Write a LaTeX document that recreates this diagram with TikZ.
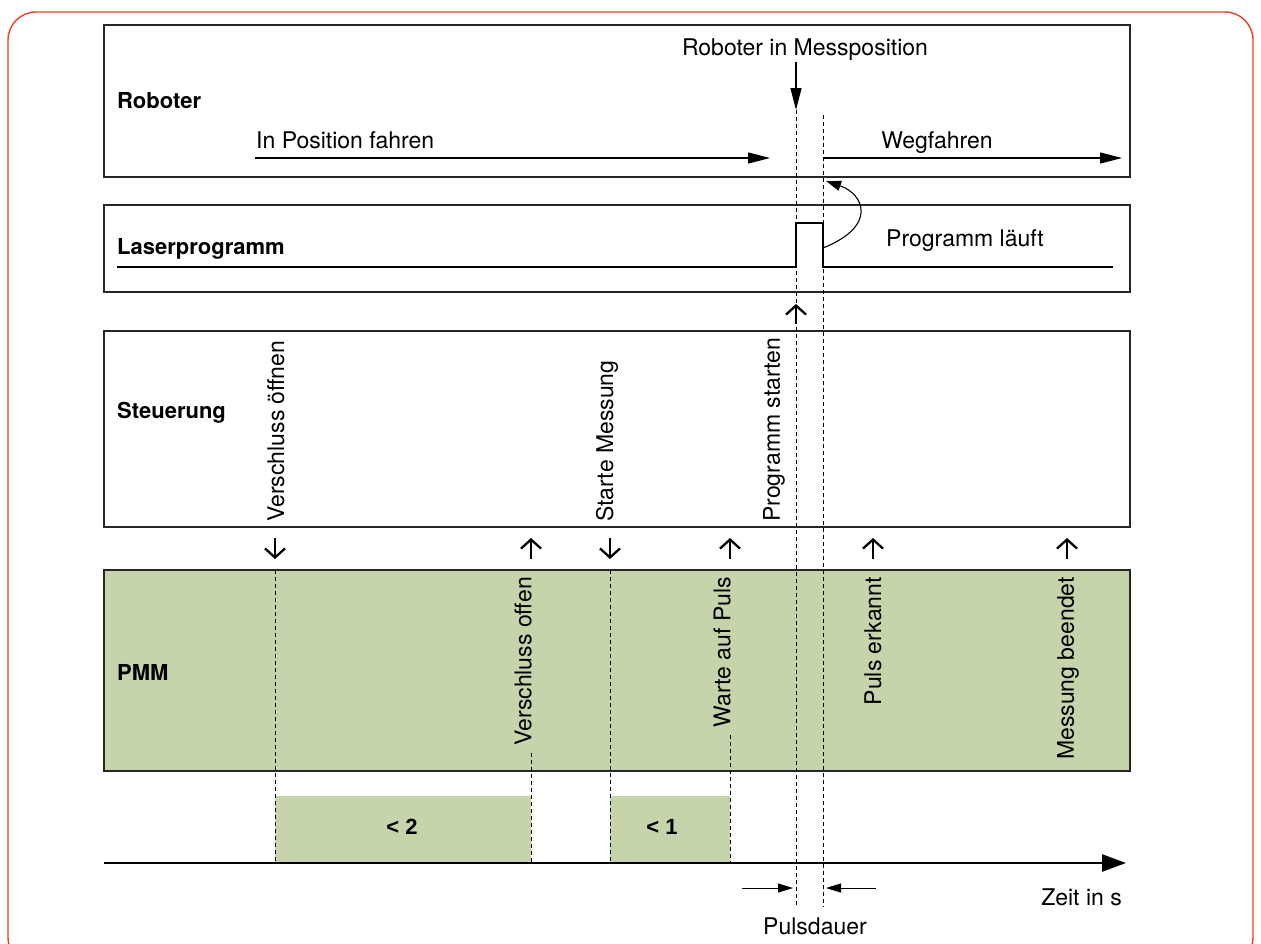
\documentclass[tikz,border=0pt]{standalone}
\usepackage{fontspec}
\setmainfont{TeX Gyre Heros}
\newfontfamily\limitfont{Liberation Sans}
\usetikzlibrary{arrows.meta}

\definecolor{pmmgreen}{RGB}{198,212,171}
\definecolor{framered}{RGB}{233,66,36}

\tikzset{
  lane/.style={draw=black!85, line width=1.3pt},
  lanelabel/.style={anchor=west, font=\fontsize{22}{26}\selectfont\bfseries},
  limit/.style={font=\limitfont\fontsize{22}{26}\selectfont\bfseries},
  vtext/.style={rotate=90},
  event/.style={dash pattern=on 4pt off 3pt, line width=0.8pt},
  signal/.style={line width=2.6pt},
  move/.style={line width=1.2pt, -{Triangle[length=22pt,width=11pt]}},
  handshake/.style={line width=2.3pt, -{Straight Barb[length=9pt,width=20pt]}},
}

\begin{document}
\begin{tikzpicture}[x=1pt,y=-1pt,inner sep=1pt,font=\fontsize{23}{27}\selectfont]
\useasboundingbox (0,0) rectangle (1261,943);

% outer frame
\draw[framered, line width=1.4pt, rounded corners=28pt] (8,12) rectangle (1253,965);

% lanes
\draw[lane] (104,25) rectangle (1130,177);
\draw[lane] (104,205) rectangle (1130,292);
\draw[lane] (104,331) rectangle (1130,527);
\draw[lane, fill=pmmgreen] (104,570) rectangle (1130,771);

\node[lanelabel] (rob) at (116,101) {Roboter};
\node[lanelabel] (laser) at (116,249) {Laserprogramm};
\node[lanelabel] (steu) at (116,413) {Steuerung};
\node[lanelabel] (pmm) at (116,672) {PMM};

% points in time
\coordinate (tOpen) at (275,0);
\coordinate (tIsOpen) at (531,0);
\coordinate (tStart) at (610,0);
\coordinate (tWait) at (730,0);
\coordinate (tOn) at (796,0);
\coordinate (tOff) at (823,0);
\coordinate (tPulse) at (873,0);
\coordinate (tDone) at (1067,0);

% Roboter
\node[anchor=west] (inpos) at (255,140.5) {In Position fahren};
\draw[move] (inpos.west |- 0,158) -- (770,158);
\node (weg) at (937,143) {Wegfahren};
\draw[move] (tOff |- 0,158) -- (1122,158);
\node (messpos) at (805,50) {Roboter in Messposition};
\draw[move] (messpos.south -| tOn) -- (tOn |- 0,110);

% Laserprogramm
\draw[signal] (117,267) -- (tOn |- 0,267) -- (tOn |- 0,223) -- (tOff |- 0,223)
  -- (tOff |- 0,267) -- (1113,267);
\node (laeuft) at (965,241) {Programm läuft};
\draw[line width=1.1pt, -{Triangle[length=15pt,width=10pt]}] (tOff |- 0,248)
  .. controls (878,226) and (864,194) .. ([xshift=3pt]tOff |- 0,181);
\draw[handshake] (tOn |- 0,324) -- (tOn |- 0,304);

% Steuerung
\node[vtext, anchor=west] (cmdOpen) at (276,523) {Verschluss öffnen};
\node[vtext, anchor=west] (cmdStart) at (607,523) {Starte Messung};
\node[vtext, anchor=west] (cmdProg) at (774,523) {Programm starten};

\foreach \t in {tOpen,tStart}
  \draw[handshake] (\t |- 0,538) -- (\t |- 0,559);
\foreach \t in {tIsOpen,tWait,tPulse,tDone}
  \draw[handshake] (\t |- 0,559) -- (\t |- 0,538);

% PMM
\node[vtext, anchor=east] (ackOpen) at (523,576) {Verschluss offen};
\node[vtext, anchor=east] (ackWait) at (722,576) {Warte auf Puls};
\node[vtext, anchor=east] (ackPulse) at (873,576) {Puls erkannt};
\node[vtext, anchor=east] (ackDone) at (1068,576) {Messung beendet};

% durations
\fill[pmmgreen] (tOpen |- 0,796) rectangle (tIsOpen |- 0,863);
\fill[pmmgreen] (tStart |- 0,796) rectangle (tWait |- 0,863);
\node[limit] (lt2) at (402,827) {< 2};
\node[limit] (lt1) at (662,827) {< 1};

% dashed event lines
\draw[event] (tOpen |- 0,570) -- (tOpen |- 0,863);
\draw[event] (tStart |- 0,570) -- (tStart |- 0,863);
\draw[event] ([yshift=-6pt]ackOpen.west -| tIsOpen) -- (tIsOpen |- 0,863);
\draw[event] ([yshift=-6pt]ackWait.west -| tWait) -- (tWait |- 0,863);
\draw[event] (tOn |- 0,110) -- (tOn |- 0,907);
\draw[event] (tOff |- 0,115) -- (tOff |- 0,907);

% time axis
\draw[line width=2.6pt, -{Triangle[length=24pt,width=17pt]}] (104,863) -- (1126,863);
\node[anchor=east] (zeit) at (1123,897) {Zeit in s};
\draw[line width=1pt, -{Triangle[length=15pt,width=9pt]}] (742,888) -- ([xshift=-3pt]tOn |- 0,888);
\draw[line width=1pt, -{Triangle[length=15pt,width=9pt]}] (876,888) -- ([xshift=3pt]tOff |- 0,888);
\node (pdauer) at (815,926) {Pulsdauer};

\end{tikzpicture}
\end{document}
